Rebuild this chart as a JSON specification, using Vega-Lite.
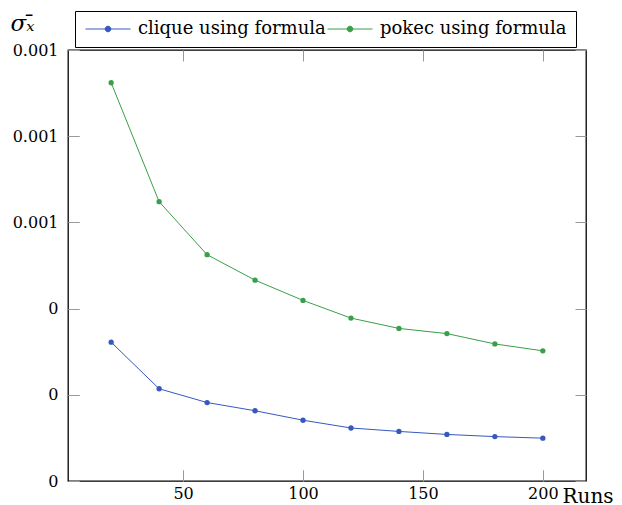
{
  "$schema": "https://vega.github.io/schema/vega-lite/v6.json",
  "width": 518,
  "height": 431,
  "autosize": "none",
  "padding": {"left": 68, "top": 50, "right": 36, "bottom": 24},
  "background": "white",
  "config": {
    "font": "DejaVu Serif",
    "view": {"stroke": "black", "strokeWidth": 1.3},
    "axis": {"grid": false, "domain": false, "ticks": true, "zindex": 1, "tickColor": "#999999", "tickWidth": 1, "tickSize": 11, "offset": -11, "labelColor": "black", "labelFontSize": 16, "labelFont": "DejaVu Serif", "titleFont": "DejaVu Serif", "titleColor": "black", "titleFontWeight": "normal"}
  },
  "data": {
    "values": [
      {"runs": 20, "series": "clique using formula", "sigma": 0.000322},
      {"runs": 40, "series": "clique using formula", "sigma": 0.000214},
      {"runs": 60, "series": "clique using formula", "sigma": 0.000182},
      {"runs": 80, "series": "clique using formula", "sigma": 0.000163},
      {"runs": 100, "series": "clique using formula", "sigma": 0.000141},
      {"runs": 120, "series": "clique using formula", "sigma": 0.000123},
      {"runs": 140, "series": "clique using formula", "sigma": 0.000115},
      {"runs": 160, "series": "clique using formula", "sigma": 0.000108},
      {"runs": 180, "series": "clique using formula", "sigma": 0.000103},
      {"runs": 200, "series": "clique using formula", "sigma": 0.0000994},
      {"runs": 20, "series": "pokec using formula", "sigma": 0.000924},
      {"runs": 40, "series": "pokec using formula", "sigma": 0.000648},
      {"runs": 60, "series": "pokec using formula", "sigma": 0.000525},
      {"runs": 80, "series": "pokec using formula", "sigma": 0.000466},
      {"runs": 100, "series": "pokec using formula", "sigma": 0.000419},
      {"runs": 120, "series": "pokec using formula", "sigma": 0.000378},
      {"runs": 140, "series": "pokec using formula", "sigma": 0.000354},
      {"runs": 160, "series": "pokec using formula", "sigma": 0.000342},
      {"runs": 180, "series": "pokec using formula", "sigma": 0.000318},
      {"runs": 200, "series": "pokec using formula", "sigma": 0.000302}
    ]
  },
  "layer": [
    {
      "mark": {"type": "line", "strokeWidth": 1, "point": {"filled": true, "size": 28, "opacity": 1}},
      "encoding": {
        "x": {"field": "runs", "type": "quantitative", "scale": {"domain": [2, 218], "nice": false, "zero": false},
          "axis": {"orient": "bottom", "values": [50, 100, 150, 200], "labelPadding": 4, "title": "Runs", "titleFontSize": 20, "titleLimit": 200, "titleAngle": 0, "titleAlign": "left", "titleBaseline": "alphabetic", "titleX": 494, "titleY": 32.5}},
        "y": {"field": "sigma", "type": "quantitative", "scale": {"domain": [0, 0.001], "nice": false},
          "axis": {"orient": "left", "values": [0, 0.0002, 0.0004, 0.0006, 0.0008, 0.001], "labelExpr": "format(datum.value, '.3~f')", "labelPadding": 10, "title": "σₓ̄", "titleFontSize": 23, "titleFontStyle": "italic", "titleAngle": 0, "titleAlign": "left", "titleBaseline": "middle", "titleX": -69, "titleY": -27}},
        "color": {"field": "series", "type": "nominal",
          "scale": {"domain": ["clique using formula", "pokec using formula"], "range": ["#3658c0", "#3a9e4a"]},
          "legend": {"orient": "none", "legendX": 7, "legendY": -39, "direction": "horizontal", "title": null,
            "strokeColor": "black", "padding": 9, "fillColor": "white",
            "labelFontSize": 18, "labelFont": "DejaVu Serif", "labelColor": "black", "labelLimit": 400, "labelOffset": 21, "columnPadding": -22,
            "symbolType": "M-5,0L5,0M-0.62,0A0.62,0.62,0,1,0,0.62,0A0.62,0.62,0,1,0,-0.62,0Z",
            "symbolSize": 81, "symbolStrokeWidth": 1, "symbolOffset": 15,
            "encode": {"symbols": {"update": {"fill": {"signal": "scale('color', datum.value)"}, "stroke": {"signal": "scale('color', datum.value)"}}}}}}
      }
    },
    {
      "mark": {"type": "point", "opacity": 0},
      "encoding": {
        "x": {"field": "runs", "type": "quantitative", "axis": {"orient": "top", "values": [50, 100, 150, 200], "labels": false, "title": null}},
        "y": {"field": "sigma", "type": "quantitative", "axis": {"orient": "right", "values": [0, 0.0002, 0.0004, 0.0006, 0.0008, 0.001], "labels": false, "title": null}}
      }
    },
    {
      "mark": {"type": "point", "opacity": 0},
      "encoding": {
        "x": {"field": "runs", "type": "quantitative", "axis": {"orient": "bottom", "values": [50, 100, 150, 200], "labels": false, "title": null}},
        "y": {"field": "sigma", "type": "quantitative", "axis": {"orient": "left", "values": [0, 0.0002, 0.0004, 0.0006, 0.0008, 0.001], "labels": false, "title": null}}
      }
    }
  ],
  "resolve": {"axis": {"x": "independent", "y": "independent"}}
}
